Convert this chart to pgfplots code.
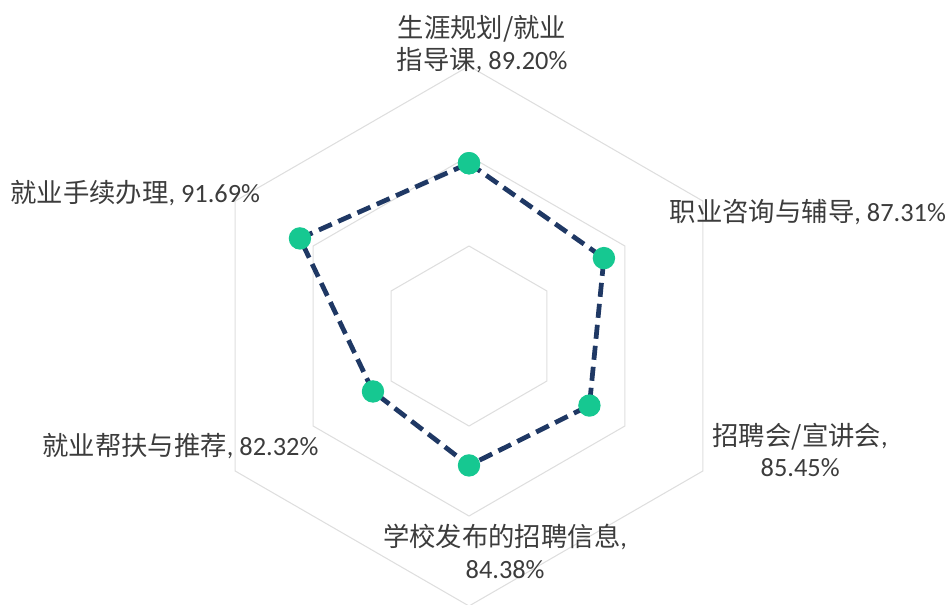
\documentclass[border=0pt]{standalone}
\usepackage{pgfplots}
\pgfplotsset{compat=1.18}
\usepackage{pgfplotstable}
\usepgfplotslibrary{polar}
\usepackage{fontspec}
\setmainfont{Carlito}
\newfontfamily\cjk{Noto Sans CJK SC}

\definecolor{navy}{RGB}{31,56,100}
\definecolor{mkgreen}{RGB}{22,200,145}
\definecolor{gridc}{RGB}{222,222,222}
\definecolor{txt}{RGB}{60,60,60}

% angle (deg), rate (%)
\pgfplotstableread{
ang val
90 89.20
30 87.31
-30 85.45
-90 84.38
-150 82.32
150 91.69
90 89.20
}\rates

\begin{document}
\begin{tikzpicture}
\useasboundingbox (0,0) rectangle (19cm,12.08cm);
\clip (0,0) rectangle (19cm,12.08cm);
\begin{polaraxis}[
  at={(9.38cm,5.36cm)}, anchor=origin,
  width=10.8cm, height=10.8cm, scale only axis,
  xmin=0, xmax=360, ymin=0, ymax=30,
  hide axis, clip=false,
  y filter/.expression={y-70},
]
\addplot[gridc, line width=0.6pt] coordinates {(90,80) (30,80) (-30,80) (-90,80) (-150,80) (150,80) (90,80)};
\addplot[gridc, line width=0.6pt] coordinates {(90,90) (30,90) (-30,90) (-90,90) (-150,90) (150,90) (90,90)};
\addplot[gridc, line width=0.6pt] coordinates {(90,100) (30,100) (-30,100) (-90,100) (-150,100) (150,100) (90,100)};
\addplot[navy, line width=2.7pt, dash pattern=on 8pt off 4pt,
  mark=*, mark size=5pt, mark options={solid, fill=mkgreen, draw=mkgreen}]
  table[x=ang, y=val] {\rates};
\end{polaraxis}
\begin{scope}[x=0.02cm, y=-0.02cm, shift={(0,12.08cm)},
  every node/.style={inner sep=0pt, text=txt, font=\fontsize{15}{18}\selectfont}]
\node[align=center] at (482,44) {{\cjk 生涯规划/就业}\\{\cjk 指导课}, 89.20\%};
\node[anchor=west] at (10,193) {{\cjk 就业手续办理}, 91.69\%};
\node[anchor=east] at (946,212) {{\cjk 职业咨询与辅导}, 87.31\%};
\node[align=center] at (800,450) {{\cjk 招聘会/宣讲会},\\85.45\%};
\node[align=center] at (505,551) {{\cjk 学校发布的招聘信息},\\84.38\%};
\node[anchor=west] at (42,446) {{\cjk 就业帮扶与推荐}, 82.32\%};
\end{scope}
\end{tikzpicture}
\end{document}
